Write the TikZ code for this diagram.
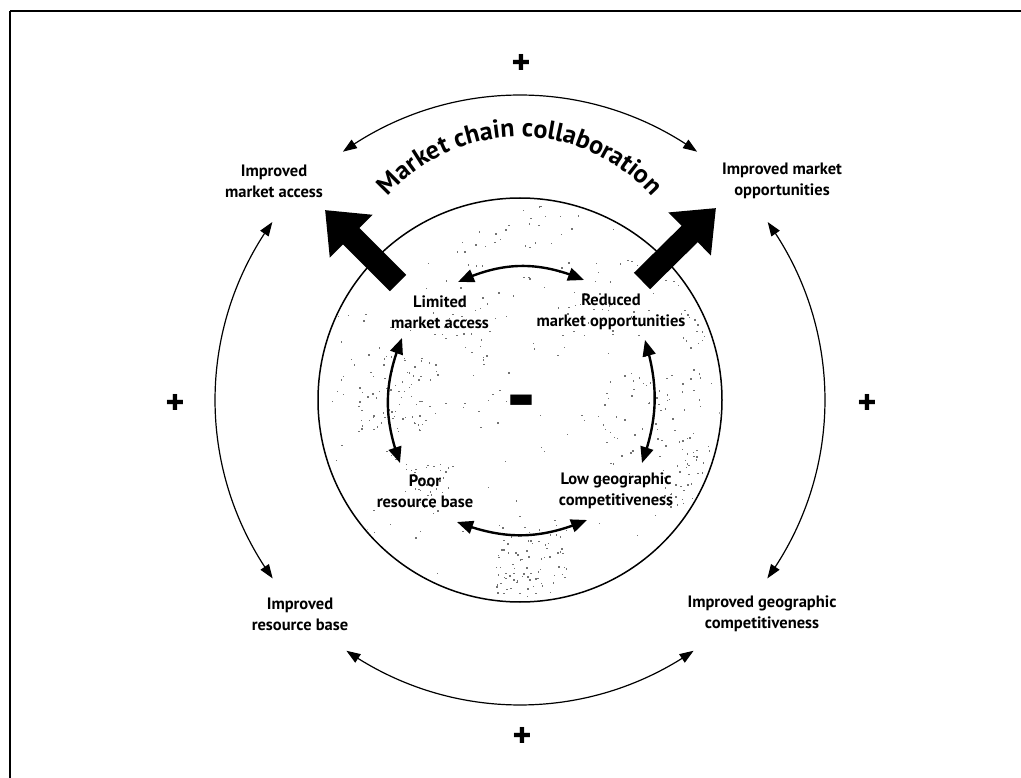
\documentclass[tikz,border=0pt]{standalone}
\usepackage{fontspec}
\setmainfont{PT Sans}
\newfontfamily\symfont{DejaVu Sans}
\usetikzlibrary{arrows.meta,bending,decorations.text,calc}
\begin{document}
\begin{tikzpicture}[x=1pt,y=1pt,
  lbl/.style={font=\bfseries\fontsize{16.5}{21}\selectfont, align=center, inner sep=0pt},
  outarc/.style={line width=1.2pt, {Triangle[length=14pt,width=10pt]}-{Triangle[length=14pt,width=10pt]}},
  inarc/.style={line width=2.4pt, {Triangle[length=16pt,width=13pt]}-{Triangle[length=16pt,width=13pt]}},
  bigarrow/.style={line width=23pt, -{Triangle[length=37pt,width=58pt]}},
  sign/.style={font=\symfont\fontsize{22}{22}\selectfont, inner sep=0pt},
  dot/.style={fill=black!55},
]
\useasboundingbox (0,0) rectangle (1021,-778);
\fill[white] (0,0) rectangle (1021,-778);
% frame
\draw[line width=2pt] (10,-11) -- (1021,-11);
\draw[line width=1.3pt] (10,-11) -- (10,-778);

\coordinate (O) at (520,-400);

% stipple inside circle
\begin{scope}
\clip (O) circle[radius=200];
\pgfmathsetseed{42}
\foreach \cx/\cy/\n/\s in {395/395/70/40, 530/560/80/35, 650/420/60/50, 520/250/30/60, 430/490/40/25, 690/480/40/30, 460/340/25/30, 600/300/25/40, 700/330/20/20} {
  \foreach \i in {1,...,\n} {
    \pgfmathsetmacro\px{\cx+\s*rand}
    \pgfmathsetmacro\py{-\cy+\s*rand}
    \fill[dot] (\px,\py) rectangle ++(1.5,1.5);
  }
}
\foreach \i in {1,...,160} {
  \pgfmathsetmacro\px{520+200*rand}
  \pgfmathsetmacro\py{-400+200*rand}
  \fill[dot] (\px,\py) rectangle ++(1.3,1.3);
}
\end{scope}

% inner circle
\node[circle, draw, line width=1.5pt, minimum size=404pt, inner sep=0pt] (ring) at (O) {};

% outer labels
\node[lbl] (imA) at (274,-181) {Improved\\market access};
\node[lbl] (imO) at (782,-181) {Improved market\\opportunities};
\node[lbl] (imR) at (300,-614) {Improved\\resource base};
\node[lbl] (imG) at (762,-614) {Improved geographic\\competitiveness};

% inner labels
\node[lbl] (lim) at (440,-312) {Limited\\market access};
\node[lbl] (red) at (611,-312) {Reduced\\market opportunities};
\node[lbl] (poor) at (425,-491) {Poor\\resource base};
\node[lbl] (low) at (616,-491) {Low geographic\\competitiveness};

% signs
\node[sign] (pT) at (521,-62) {✚};
\node[sign] (pL) at (175,-402) {✚};
\node[sign] (pR) at (867,-402) {✚};
\node[sign] (pB) at (522,-735) {✚};
\node[font=\symfont\fontsize{28}{28}\selectfont, inner sep=0pt] (minus) at (521,-401) {▬};

% outer arcs
\coordinate (t1) at ($(O)+(125.5:305)$);
\coordinate (l1) at ($(O)+(144.3:305)$);
\coordinate (r1) at ($(O)+(35.7:305)$);
\coordinate (b1) at ($(O)+(235.3:305)$);
\draw[outarc] (t1) arc[start angle=125.5, end angle=54.5, radius=305];
\draw[outarc] (l1) arc[start angle=144.3, end angle=215.8, radius=305];
\draw[outarc] (r1) arc[start angle=35.7, end angle=-35.8, radius=305];
\draw[outarc] (b1) arc[start angle=235.3, end angle=304.7, radius=305];

% inner arcs
\coordinate (ta) at (458,-282); \coordinate (tb) at (584,-280);
\coordinate (la) at (402,-338); \coordinate (lb) at (400,-463);
\coordinate (ra) at (645,-340); \coordinate (rb) at (642,-463);
\coordinate (ba) at (457,-522); \coordinate (bb) at (587,-520);
\draw[inarc] (ta) to[bend left=24] (tb);
\draw[inarc] (la) to[bend right=21] (lb);
\draw[inarc] (ra) to[bend left=18] (rb);
\draw[inarc] (ba) to[bend right=22] (bb);

% big arrows
\coordinate (ltail) at (398,-283); \coordinate (ltip) at (325,-210);
\coordinate (rtail) at (642,-281); \coordinate (rtip) at (716,-208);
\draw[bigarrow] (ltail) -- (ltip);
\draw[bigarrow] (rtail) -- (rtip);

% curved title
\coordinate (C2) at (520,-313);
\path[decorate, decoration={text along path, text={|\bfseries\fontsize{26}{26}\selectfont|Market chain collaboration}, text align=center}]
  ($(C2)+(150:176)$) arc[start angle=150, end angle=30, radius=176];
\end{tikzpicture}
\end{document}
